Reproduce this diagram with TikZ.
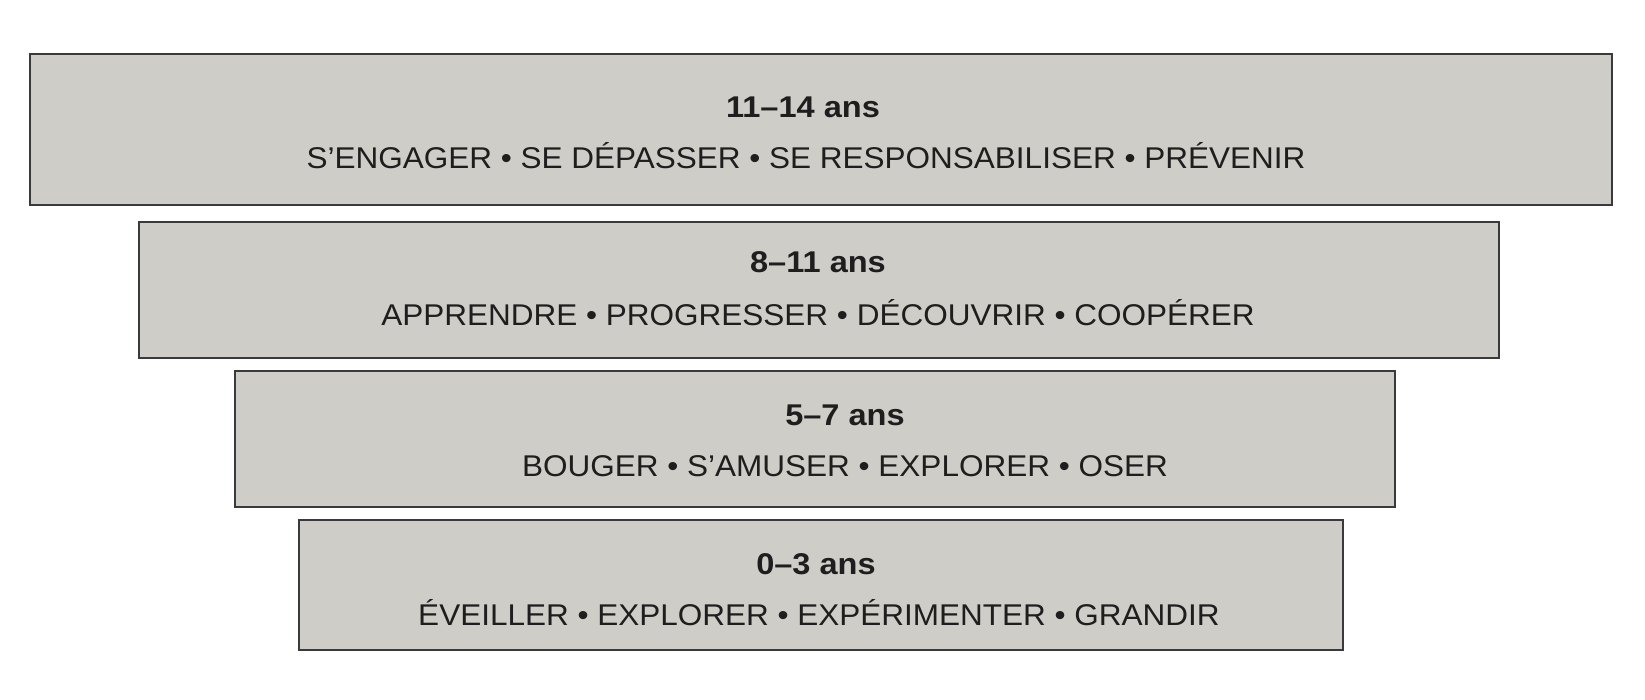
\documentclass[tikz,border=0pt]{standalone}
\usepackage{fontspec}
\setmainfont{Liberation Sans}
\newfontfamily\verbfont[FakeStretch=1.05]{Liberation Sans}
\newfontfamily\agefont[FakeStretch=1.085]{Liberation Sans}
\definecolor{boxfill}{HTML}{CFCDC8}
\definecolor{boxline}{HTML}{3A3A3C}
\definecolor{txt}{HTML}{1E1E1E}
\tikzset{
  band/.style={draw=boxline, line width=2pt, fill=boxfill},
  agetitle/.style={anchor=base, inner sep=0pt, text=txt, font=\agefont\fontsize{30}{33}\selectfont\bfseries},
  verbs/.style={anchor=base, inner sep=0pt, text=txt, font=\verbfont\fontsize{30}{33}\selectfont},
}
\begin{document}
\begin{tikzpicture}[x=1pt,y=-1pt]
\useasboundingbox (0,0) rectangle (1645,700);
\fill[white] (0,0) rectangle (1645,700);
% bands
\path[band] (30,54) rectangle (1612,205);
\path[band] (139,222) rectangle (1499,358);
\path[band] (235,371) rectangle (1395,507);
\path[band] (299,520) rectangle (1343,650);
% texts
\node[agetitle] (t1) at (803,118) {11–14 ans};
\node[verbs] (s1) at (806,169) {S’ENGAGER • SE DÉPASSER • SE RESPONSABILISER • PRÉVENIR};
\node[agetitle] (t2) at (818,273) {8–11 ans};
\node[verbs] (s2) at (818,325) {APPRENDRE • PROGRESSER • DÉCOUVRIR • COOPÉRER};
\node[agetitle] (t3) at (845,425) {5–7 ans};
\node[verbs] (s3) at (845,476) {BOUGER • S’AMUSER • EXPLORER • OSER};
\node[agetitle] (t4) at (816,574) {0–3 ans};
\node[verbs] (s4) at (819,625) {ÉVEILLER • EXPLORER • EXPÉRIMENTER • GRANDIR};
\end{tikzpicture}
\end{document}
